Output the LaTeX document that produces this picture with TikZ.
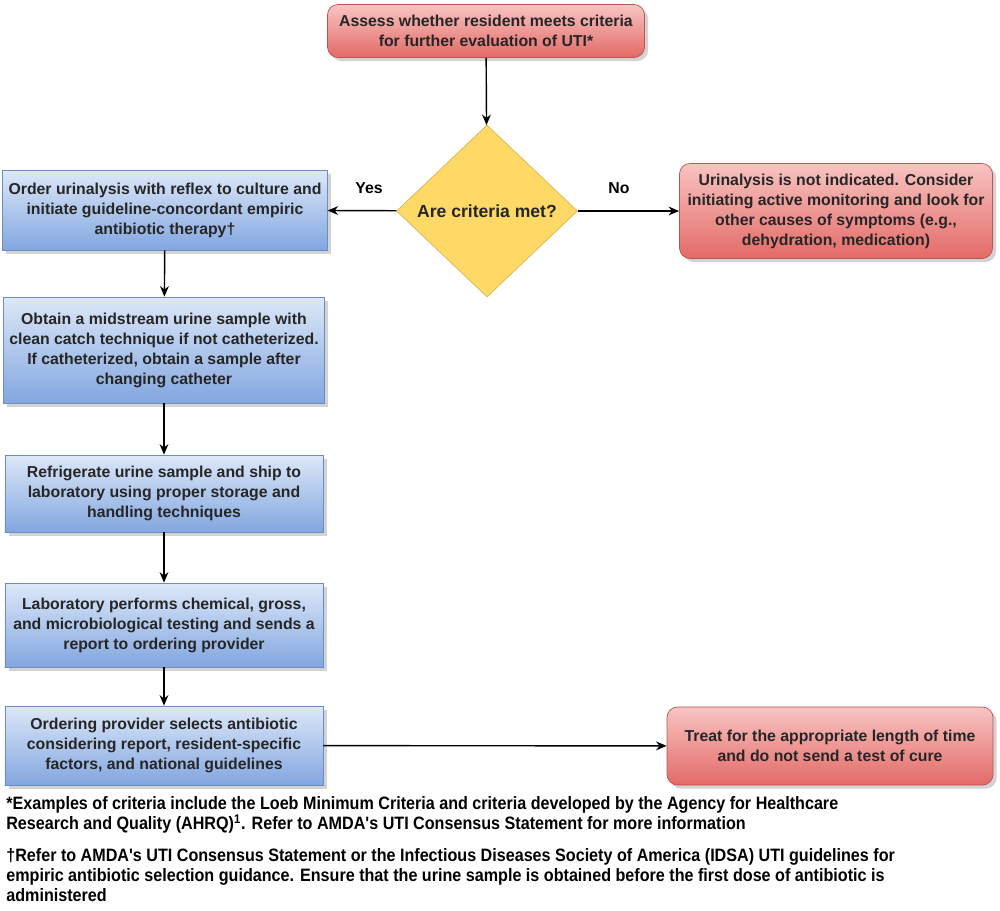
\documentclass[tikz,border=0pt]{standalone}
\usepackage{fontspec}
\setmainfont{Liberation Sans}
\newfontfamily\narrowfont[FakeStretch=0.9]{Liberation Sans}
\usepackage{tikz}
\usetikzlibrary{arrows.meta, positioning, shapes.geometric, shadows}
\usepackage{xcolor}
\definecolor{redtop}{HTML}{F8C4C2}
\definecolor{redbot}{HTML}{E36A67}
\definecolor{redline}{HTML}{B85450}
\definecolor{bluetop}{HTML}{DDE8F8}
\definecolor{bluebot}{HTML}{82A6E0}
\definecolor{blueline}{HTML}{6C8EBF}
\definecolor{yellowfill}{HTML}{FFD966}
\definecolor{yellowline}{HTML}{D6B656}
\tikzset{%
	redbox/.style={
		rectangle,
		rounded corners=6pt,
		draw=redline,
		top color=redtop,
		bottom color=redbot,
		drop shadow={opacity=0.35, shadow xshift=2pt, shadow yshift=-2pt},
		align=center,
		font=\fontsize{9}{11.4}\selectfont\bfseries,
		text=black!85
	},
	bluebox/.style={
		rectangle,
		draw=blueline,
		top color=bluetop,
		bottom color=bluebot,
		drop shadow={opacity=0.35, shadow xshift=2pt, shadow yshift=-2pt},
		align=center,
		minimum width=6.36cm,
		font=\fontsize{9}{11.4}\selectfont\bfseries,
		text=black!85
	},
	decision/.style={
		diamond,
		draw=yellowline,
		fill=yellowfill,
		inner sep=0pt,
		minimum width=3.62cm,
		minimum height=3.44cm,
		font=\fontsize{10}{12}\selectfont\bfseries,
		text=black!85
	},
	flow/.style={
		-{Stealth[length=6pt, width=5pt]},
		thick
	},
	notetext/.style={
		anchor=north west,
		align=left,
		inner sep=0pt,
		font=\narrowfont\fontsize{10.2}{11.4}\selectfont\bfseries
	},
}

\begin{document}
\begin{tikzpicture}
	\useasboundingbox (0,0) rectangle (20,-18.2);
	
	\node[redbox, minimum width=6.34cm, minimum height=1.06cm] (assess) at (9.72,-0.62) {Assess whether resident meets criteria\\for further evaluation of UTI*};
	\node[decision] (met) at (9.74,-4.22) {Are criteria met?};
	\node[bluebox, minimum width=6.4cm, minimum height=1.6cm] (order) at (3.3,-4.2) {Order urinalysis with reflex to culture and\\initiate guideline-concordant empiric\\antibiotic therapy\textdagger};
	\node[redbox, minimum width=6.26cm, minimum height=1.9cm] (notind) at (16.72,-4.22) {Urinalysis is not indicated. Consider\\initiating active monitoring and look for\\other causes of symptoms (e.g.,\\dehydration, medication)};
	
	\node[bluebox, minimum height=2.12cm] (obtain) at (3.28,-7.0) {Obtain a midstream urine sample with\\clean catch technique if not catheterized.\\If catheterized, obtain a sample after\\changing catheter};
	\node[bluebox, minimum height=1.54cm] (fridge) at (3.28,-9.87) {Refrigerate urine sample and ship to\\laboratory using proper storage and\\handling techniques};
	\node[bluebox, minimum height=1.68cm] (lab) at (3.28,-12.5) {Laboratory performs chemical, gross,\\and microbiological testing and sends a\\report to ordering provider};
	\node[bluebox, minimum height=1.58cm] (select) at (3.28,-14.91) {Ordering provider selects antibiotic\\considering report, resident-specific\\factors, and national guidelines};
	\node[redbox, minimum width=6.52cm, minimum height=1.56cm] (treat) at (16.6,-14.92) {Treat for the appropriate length of time\\and do not send a test of cure};
	
	\node[font=\fontsize{9}{11}\selectfont\bfseries] (yes) at (7.38,-3.76) {Yes};
	\node[font=\fontsize{9}{11}\selectfont\bfseries] (no) at (12.38,-3.76) {No};
	
	\draw[flow] (assess) -- (met);
	\draw[flow] (met) -- (order);
	\draw[flow] (met) -- (notind);
	\draw[flow] (order) -- (obtain);
	\draw[flow] (obtain) -- (fridge);
	\draw[flow] (fridge) -- (lab);
	\draw[flow] (lab) -- (select);
	\draw[flow] (select) -- (treat);
	
	% footnotes
	\node[notetext] (note1) at (0.12,-15.92) {*Examples of criteria include the Loeb Minimum Criteria and criteria developed by the Agency for Healthcare\\Research and Quality (AHRQ)\textsuperscript{1}. Refer to AMDA's UTI Consensus Statement for more information};
	\node[notetext] (note2) at (0.12,-16.96) {\textdagger Refer to AMDA's UTI Consensus Statement or the Infectious Diseases Society of America (IDSA) UTI guidelines for\\empiric antibiotic selection guidance. Ensure that the urine sample is obtained before the first dose of antibiotic is\\administered};
\end{tikzpicture}
\end{document}
